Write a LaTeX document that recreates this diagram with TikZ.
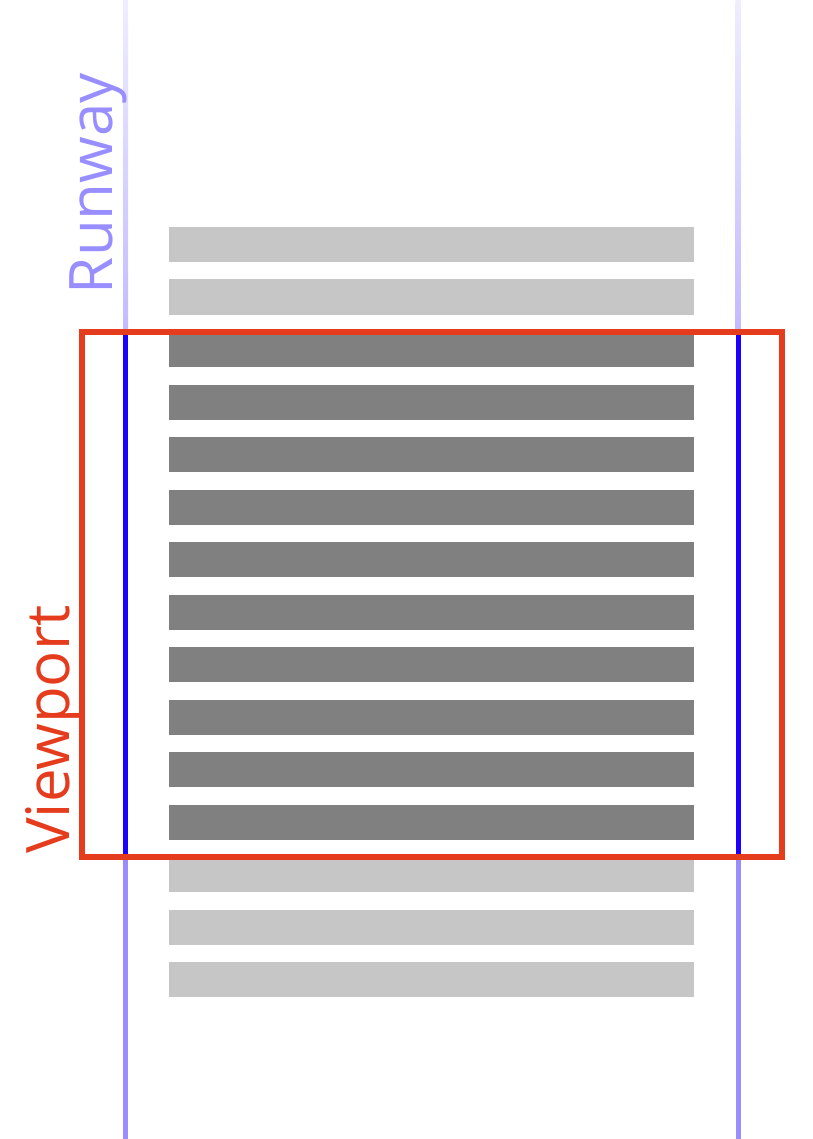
\documentclass[tikz,border=0pt]{standalone}
\usepackage{fontspec}
\setmainfont{Open Sans}
\definecolor{runBlue}{RGB}{30, 0, 255}
\definecolor{runLabel}{RGB}{152, 142, 255}
\definecolor{viewRed}{RGB}{230, 60, 30}
\definecolor{barLight}{RGB}{198, 198, 198}
\definecolor{barDark}{RGB}{128, 128, 128}
\usetikzlibrary{positioning, calc}

\begin{document}
\begin{tikzpicture}[
    x=1pt, y=-1pt,
    bar/.style={
      rectangle, fill=barLight, inner sep=0pt, outer sep=0pt,
      minimum width=525pt, minimum height=35pt, anchor=north west
    },
    active/.style={bar, fill=barDark},
    rail/.style={line width=5pt},
    label/.style={font=\fontsize{60}{70}\selectfont, rotate=90, anchor=base, inner sep=0pt},
  ]
    \useasboundingbox (0,0) rectangle (812,1139);

    % Rows
    \foreach \i in {1,...,15} {
      \pgfmathsetmacro{\ypos}{227+52.5*(\i-1)}
      \ifnum\i<3
        \node[bar] (bar\i) at (169,\ypos) {};
      \else\ifnum\i>12
        \node[bar] (bar\i) at (169,\ypos) {};
      \else
        \node[active] (bar\i) at (169,\ypos) {};
      \fi\fi
    }

    % Runway rails
    \foreach \side/\xpos in {L/125.5, R/738} {
      \coordinate (rail\side top) at (\xpos,0);
      \coordinate (rail\side in) at (\xpos,332);
      \coordinate (rail\side out) at (\xpos,856.5);
      \coordinate (rail\side end) at (\xpos,1139);
      \shade[top color=runBlue!7, bottom color=runBlue!27]
        ($(rail\side top)+(-2.5,0)$) rectangle ($(rail\side in)+(2.5,0)$);
      \draw[rail, runBlue] (rail\side in) -- (rail\side out);
      \draw[rail, runBlue!45] (rail\side out) -- (rail\side end);
    }

    % Viewport
    \node[draw=viewRed, line width=6pt, inner sep=0pt, outer sep=0pt,
      minimum width=700pt, minimum height=524.5pt] (viewport) at (432,594.25) {};

    % Labels
    \node[label, text=runLabel] (runway) at (112,183.5) {Runway};
    \node[label, text=viewRed] (vplabel) at (69,729.5) {Viewport};
  \end{tikzpicture}
\end{document}
